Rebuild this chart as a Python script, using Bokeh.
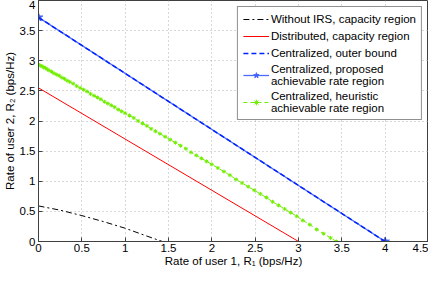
from bokeh.plotting import figure
from bokeh.models import Range1d, Legend, LegendItem, FixedTicker
from bokeh.embed import file_html
from bokeh.resources import INLINE

# ---------------- data ----------------
x_ticks = [0, 0.5, 1, 1.5, 2, 2.5, 3, 3.5, 4, 4.5]
x_tick_labels = ["0", "0.5", "1", "1.5", "2", "2.5", "3", "3.5", "4", "4.5"]
y_ticks = [0, 0.5, 1, 1.5, 2, 2.5, 3, 3.5, 4]
y_tick_labels = ["0", "0.5", "1", "1.5", "2", "2.5", "3", "3.5", "4"]

# Without IRS, capacity region
noirs_r1 = [0.0, 0.25, 0.5, 0.75, 1.0, 1.25, 1.43]
noirs_r2 = [0.59, 0.52, 0.43, 0.33, 0.22, 0.09, 0.0]

# Distributed, capacity region
dist_r1 = [0.0, 3.0]
dist_r2 = [2.55, 0.0]

# Centralized, outer bound
outer_r1 = [0.0, 4.0]
outer_r2 = [3.72, 0.0]

# Centralized, proposed achievable rate region
prop_r1 = [0.0, 4.0]
prop_r2 = [3.72, 0.0]

# Centralized, heuristic achievable rate region
heur_r1 = [0, 0.02, 0.04, 0.06, 0.08, 0.10, 0.12, 0.15, 0.18, 0.21, 0.24, 0.27,
           0.30, 0.33, 0.36, 0.40, 0.44, 0.48, 0.52, 0.56, 0.60, 0.64, 0.68, 0.72,
           0.76, 0.80, 0.84, 0.88, 0.92, 0.96, 1.00, 1.05, 1.10, 1.15, 1.20, 1.25,
           1.30, 1.35, 1.40, 1.46, 1.52, 1.58, 1.64, 1.70, 1.76, 1.82, 1.88, 1.94,
           2.00, 2.07, 2.14, 2.21, 2.28, 2.35, 2.42, 2.49, 2.56, 2.63, 2.70, 2.77,
           2.84, 2.91, 2.98, 3.05, 3.13, 3.21, 3.29, 3.37, 3.44]
heur_r2 = [2.94, 2.92, 2.91, 2.89, 2.88, 2.86, 2.84, 2.82, 2.79, 2.77, 2.75, 2.72,
           2.70, 2.67, 2.65, 2.62, 2.58, 2.55, 2.52, 2.49, 2.45, 2.42, 2.39, 2.36,
           2.32, 2.29, 2.26, 2.23, 2.19, 2.16, 2.13, 2.09, 2.05, 2.00, 1.96, 1.92,
           1.87, 1.83, 1.79, 1.74, 1.69, 1.64, 1.59, 1.54, 1.48, 1.43, 1.38, 1.33,
           1.28, 1.22, 1.16, 1.10, 1.03, 0.97, 0.91, 0.85, 0.79, 0.73, 0.66, 0.60,
           0.54, 0.48, 0.42, 0.35, 0.28, 0.20, 0.13, 0.06, 0.00]

FONT = "Liberation Sans"
AX = "#404040"

p = figure(width=428, height=269, output_backend="svg", toolbar_location=None,
           title_location=None,
           x_range=Range1d(0, 4.5), y_range=Range1d(0, 4),
           min_border_left=32, min_border_right=0, min_border_top=0,
           min_border_bottom=0, background_fill_color="white",
           border_fill_color="white")

p.outline_line_color = AX
p.outline_line_width = 1

for ax, ticks, labels in ((p.xaxis[0], x_ticks, x_tick_labels),
                          (p.yaxis[0], y_ticks, y_tick_labels)):
    ax.ticker = FixedTicker(ticks=ticks)
    ax.major_label_overrides = {t: l for t, l in zip(ticks, labels)}
    ax.major_tick_in = 4
    ax.major_tick_out = 0
    ax.minor_tick_line_color = None
    ax.axis_line_color = AX
    ax.major_tick_line_color = AX
    ax.major_label_text_font = FONT
    ax.major_label_text_font_size = "11.5px"
    ax.major_label_text_color = "black"
    ax.major_label_text_line_height = 1.0
    ax.major_label_standoff = 3
    ax.axis_label_text_font = FONT
    ax.axis_label_text_font_size = "11.5px"
    ax.axis_label_text_font_style = "normal"
    ax.axis_label_text_color = "black"
    ax.axis_label_text_line_height = 1.0
    ax.axis_label_standoff = 1

p.xaxis.major_label_standoff = 2
p.xaxis.axis_label_standoff = 0

p.xaxis.axis_label = "Rate of user 1, R\u2081 (bps/Hz)"
p.yaxis.axis_label = "Rate of user 2, R\u2082 (bps/Hz)"

p.grid.grid_line_color = "#b0b0b0"
p.grid.grid_line_dash = "1 3"
p.grid.grid_line_width = 1

r_noirs = p.line(noirs_r1, noirs_r2, line_color="black", line_width=1,
                 line_dash="6 3 2 3")
r_dist = p.line(dist_r1, dist_r2, line_color="#ff0000", line_width=1)
r_prop = p.line(prop_r1, prop_r2, line_color="#4d6bff", line_width=1.3)
r_prop_m = p.scatter(prop_r1, prop_r2, marker="star", size=9,
                     fill_color="#3f5fff", line_color="#3f5fff")
r_outer = p.line(outer_r1, outer_r2, line_color="#0022ff", line_width=1.5,
                 line_dash="5 3")
r_heur = p.line(heur_r1, heur_r2, line_color="#70ee00", line_width=1,
                line_dash="4 3")
r_heur_m = p.scatter(heur_r1, heur_r2, marker="asterisk", size=4,
                     line_color="#70ee00", line_width=1)

legend = Legend(items=[
    LegendItem(label="Without IRS, capacity region", renderers=[r_noirs]),
    LegendItem(label="Distributed, capacity region", renderers=[r_dist]),
    LegendItem(label="Centralized, outer bound", renderers=[r_outer]),
    LegendItem(label="Centralized, proposed\nachievable rate region",
               renderers=[r_prop, r_prop_m]),
    LegendItem(label="Centralized, heuristic\nachievable rate region",
               renderers=[r_heur, r_heur_m]),
], location="top_right")
legend.label_text_font = FONT
legend.label_text_font_size = "11.5px"
legend.label_text_color = "black"
legend.label_text_line_height = 1.25
legend.glyph_width = 26
legend.glyph_height = 14
legend.label_height = 14
legend.label_standoff = 2
legend.spacing = 3
legend.padding = 5
legend.margin = 6
legend.border_line_color = "#222222"
legend.border_line_width = 1
legend.background_fill_color = "white"
legend.background_fill_alpha = 1
p.add_layout(legend)

open("out.html", "w").write(file_html(p, INLINE))
